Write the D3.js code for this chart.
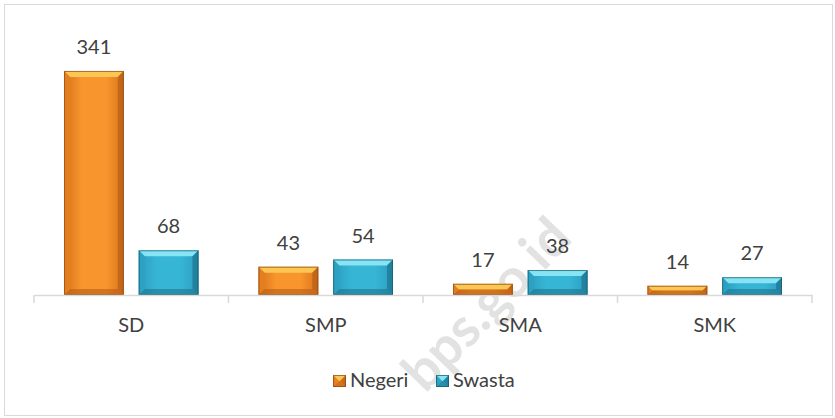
<!DOCTYPE html>
<html>
<head>
<meta charset="utf-8">
<script src="https://cdn.jsdelivr.net/npm/d3@7"></script>
<style>
  body { margin: 0; background: #fff; }
  text { font-family: Lato, "Open Sans", sans-serif; fill: #404040; }
</style>
</head>
<body>
<div id="chart"></div>
<script>
// data
var categories = ["SD", "SMP", "SMA", "SMK"];
var seriesNames = ["Negeri", "Swasta"];
var negeri = [341, 43, 17, 14];
var swasta = [68, 54, 38, 27];

var W = 835, H = 418;
var svg = d3.select("#chart").append("svg")
    .attr("width", W).attr("height", H);

var defs = svg.append("defs");
var pal = {
  Negeri: {edge: "#d9731c", mid: "#f8962d", top: "#fcc653", side: "#e57f20", bottom: "#b85e15", line: "#8a4a14"},
  Swasta: {edge: "#2c9dbd", mid: "#37b5d5", top: "#86e4f5", side: "#2ca1c2", bottom: "#1c7490", line: "#1a5a6c"}
};
seriesNames.forEach(function(s) {
  var g = defs.append("linearGradient").attr("id", "grad" + s)
      .attr("x1", 0).attr("x2", 1).attr("y1", 0).attr("y2", 0);
  g.append("stop").attr("offset", "0%").attr("stop-color", pal[s].edge);
  g.append("stop").attr("offset", "30%").attr("stop-color", pal[s].mid);
  g.append("stop").attr("offset", "70%").attr("stop-color", pal[s].mid);
  g.append("stop").attr("offset", "100%").attr("stop-color", pal[s].edge);
});

// outer border
svg.append("rect")
    .attr("x", 4.5).attr("y", 4.5).attr("width", 828).attr("height", 411)
    .attr("fill", "#fff").attr("stroke", "#d9d9d9");

// watermark
svg.append("text")
    .attr("transform", "translate(574,240) rotate(-46)")
    .attr("text-anchor", "end")
    .style("font-size", "54px").style("font-weight", "bold")
    .style("fill", "#e2e2e2")
    .text("bps.go.id");

var x0 = d3.scaleBand().domain(categories).range([34, 812]);
var x1 = d3.scaleBand().domain(seriesNames)
    .range([30, x0.bandwidth() - 30]).paddingInner(0.2);
var y = d3.scaleLinear().domain([0, 400]).range([295, 32.2]);

var rows = categories.map(function(c, i) {
  return {cat: c, vals: [{s: "Negeri", v: negeri[i]}, {s: "Swasta", v: swasta[i]}]};
});

function drawBar(g, x, yTop, w, h, s) {
  var p = pal[s];
  var b = Math.min(6, h / 2, w / 2);
  g.append("rect").attr("x", x).attr("y", yTop).attr("width", w).attr("height", h)
      .attr("fill", "url(#grad" + s + ")");
  // top bevel
  g.append("path").attr("d", "M" + x + "," + yTop + "L" + (x + w) + "," + yTop +
      "L" + (x + w - b) + "," + (yTop + b) + "L" + (x + b) + "," + (yTop + b) + "Z")
      .attr("fill", p.top);
  // bottom bevel
  g.append("path").attr("d", "M" + x + "," + (yTop + h) + "L" + (x + w) + "," + (yTop + h) +
      "L" + (x + w - b) + "," + (yTop + h - b) + "L" + (x + b) + "," + (yTop + h - b) + "Z")
      .attr("fill", p.bottom).attr("opacity", 0.6);
  // side bevels
  g.append("path").attr("d", "M" + x + "," + yTop + "L" + (x + b) + "," + (yTop + b) +
      "L" + (x + b) + "," + (yTop + h - b) + "L" + x + "," + (yTop + h) + "Z")
      .attr("fill", p.side).attr("opacity", 0.8);
  g.append("path").attr("d", "M" + (x + w) + "," + yTop + "L" + (x + w - b) + "," + (yTop + b) +
      "L" + (x + w - b) + "," + (yTop + h - b) + "L" + (x + w) + "," + (yTop + h) + "Z")
      .attr("fill", p.bottom).attr("opacity", 0.7);
  g.append("rect").attr("x", x + 0.5).attr("y", yTop + 0.5)
      .attr("width", w - 1).attr("height", h - 1)
      .attr("fill", "none").attr("stroke", p.line).attr("stroke-opacity", 0.7);
}

var groups = svg.selectAll(".cat").data(rows).enter().append("g")
    .attr("transform", function(d) { return "translate(" + x0(d.cat) + ",0)"; });

groups.selectAll(".bar").data(function(d) { return d.vals; }).enter().append("g")
    .each(function(d) {
      drawBar(d3.select(this), x1(d.s), y(d.v), x1.bandwidth(), y(0) - y(d.v), d.s);
    });

groups.selectAll(".lbl").data(function(d) { return d.vals; }).enter().append("text")
    .attr("x", function(d) { return x1(d.s) + x1.bandwidth() / 2; })
    .attr("y", function(d) { return y(d.v) - 17; })
    .attr("text-anchor", "middle")
    .style("font-size", "20px")
    .text(function(d) { return d.v; });

// axis
var axis = svg.append("g").attr("transform", "translate(0,295)")
    .call(d3.axisBottom(x0).tickSize(0).tickPadding(23));
axis.select(".domain").attr("stroke", "#d9d9d9").attr("stroke-width", 1.5);
axis.selectAll("text").style("font-size", "20px").style("font-family", "Lato, sans-serif")
    .attr("fill", "#404040");
var bounds = categories.map(function(c) { return x0(c); }).concat([x0.range()[1]]);
axis.selectAll(".bnd").data(bounds).enter().append("line")
    .attr("x1", function(d) { return d; }).attr("x2", function(d) { return d; })
    .attr("y1", 0).attr("y2", 8)
    .attr("stroke", "#d9d9d9").attr("stroke-width", 1.5);

// legend
var legendX = [333, 436];
var leg = svg.selectAll(".leg").data(seriesNames).enter().append("g")
    .attr("transform", function(d, i) { return "translate(" + legendX[i] + ",375)"; });
leg.each(function(d) { drawBar(d3.select(this), 0, 0, 13, 12, d); });
leg.append("text").attr("x", 17).attr("y", 12)
    .style("font-size", "20px")
    .text(function(d) { return d; });
</script>
</body>
</html>
